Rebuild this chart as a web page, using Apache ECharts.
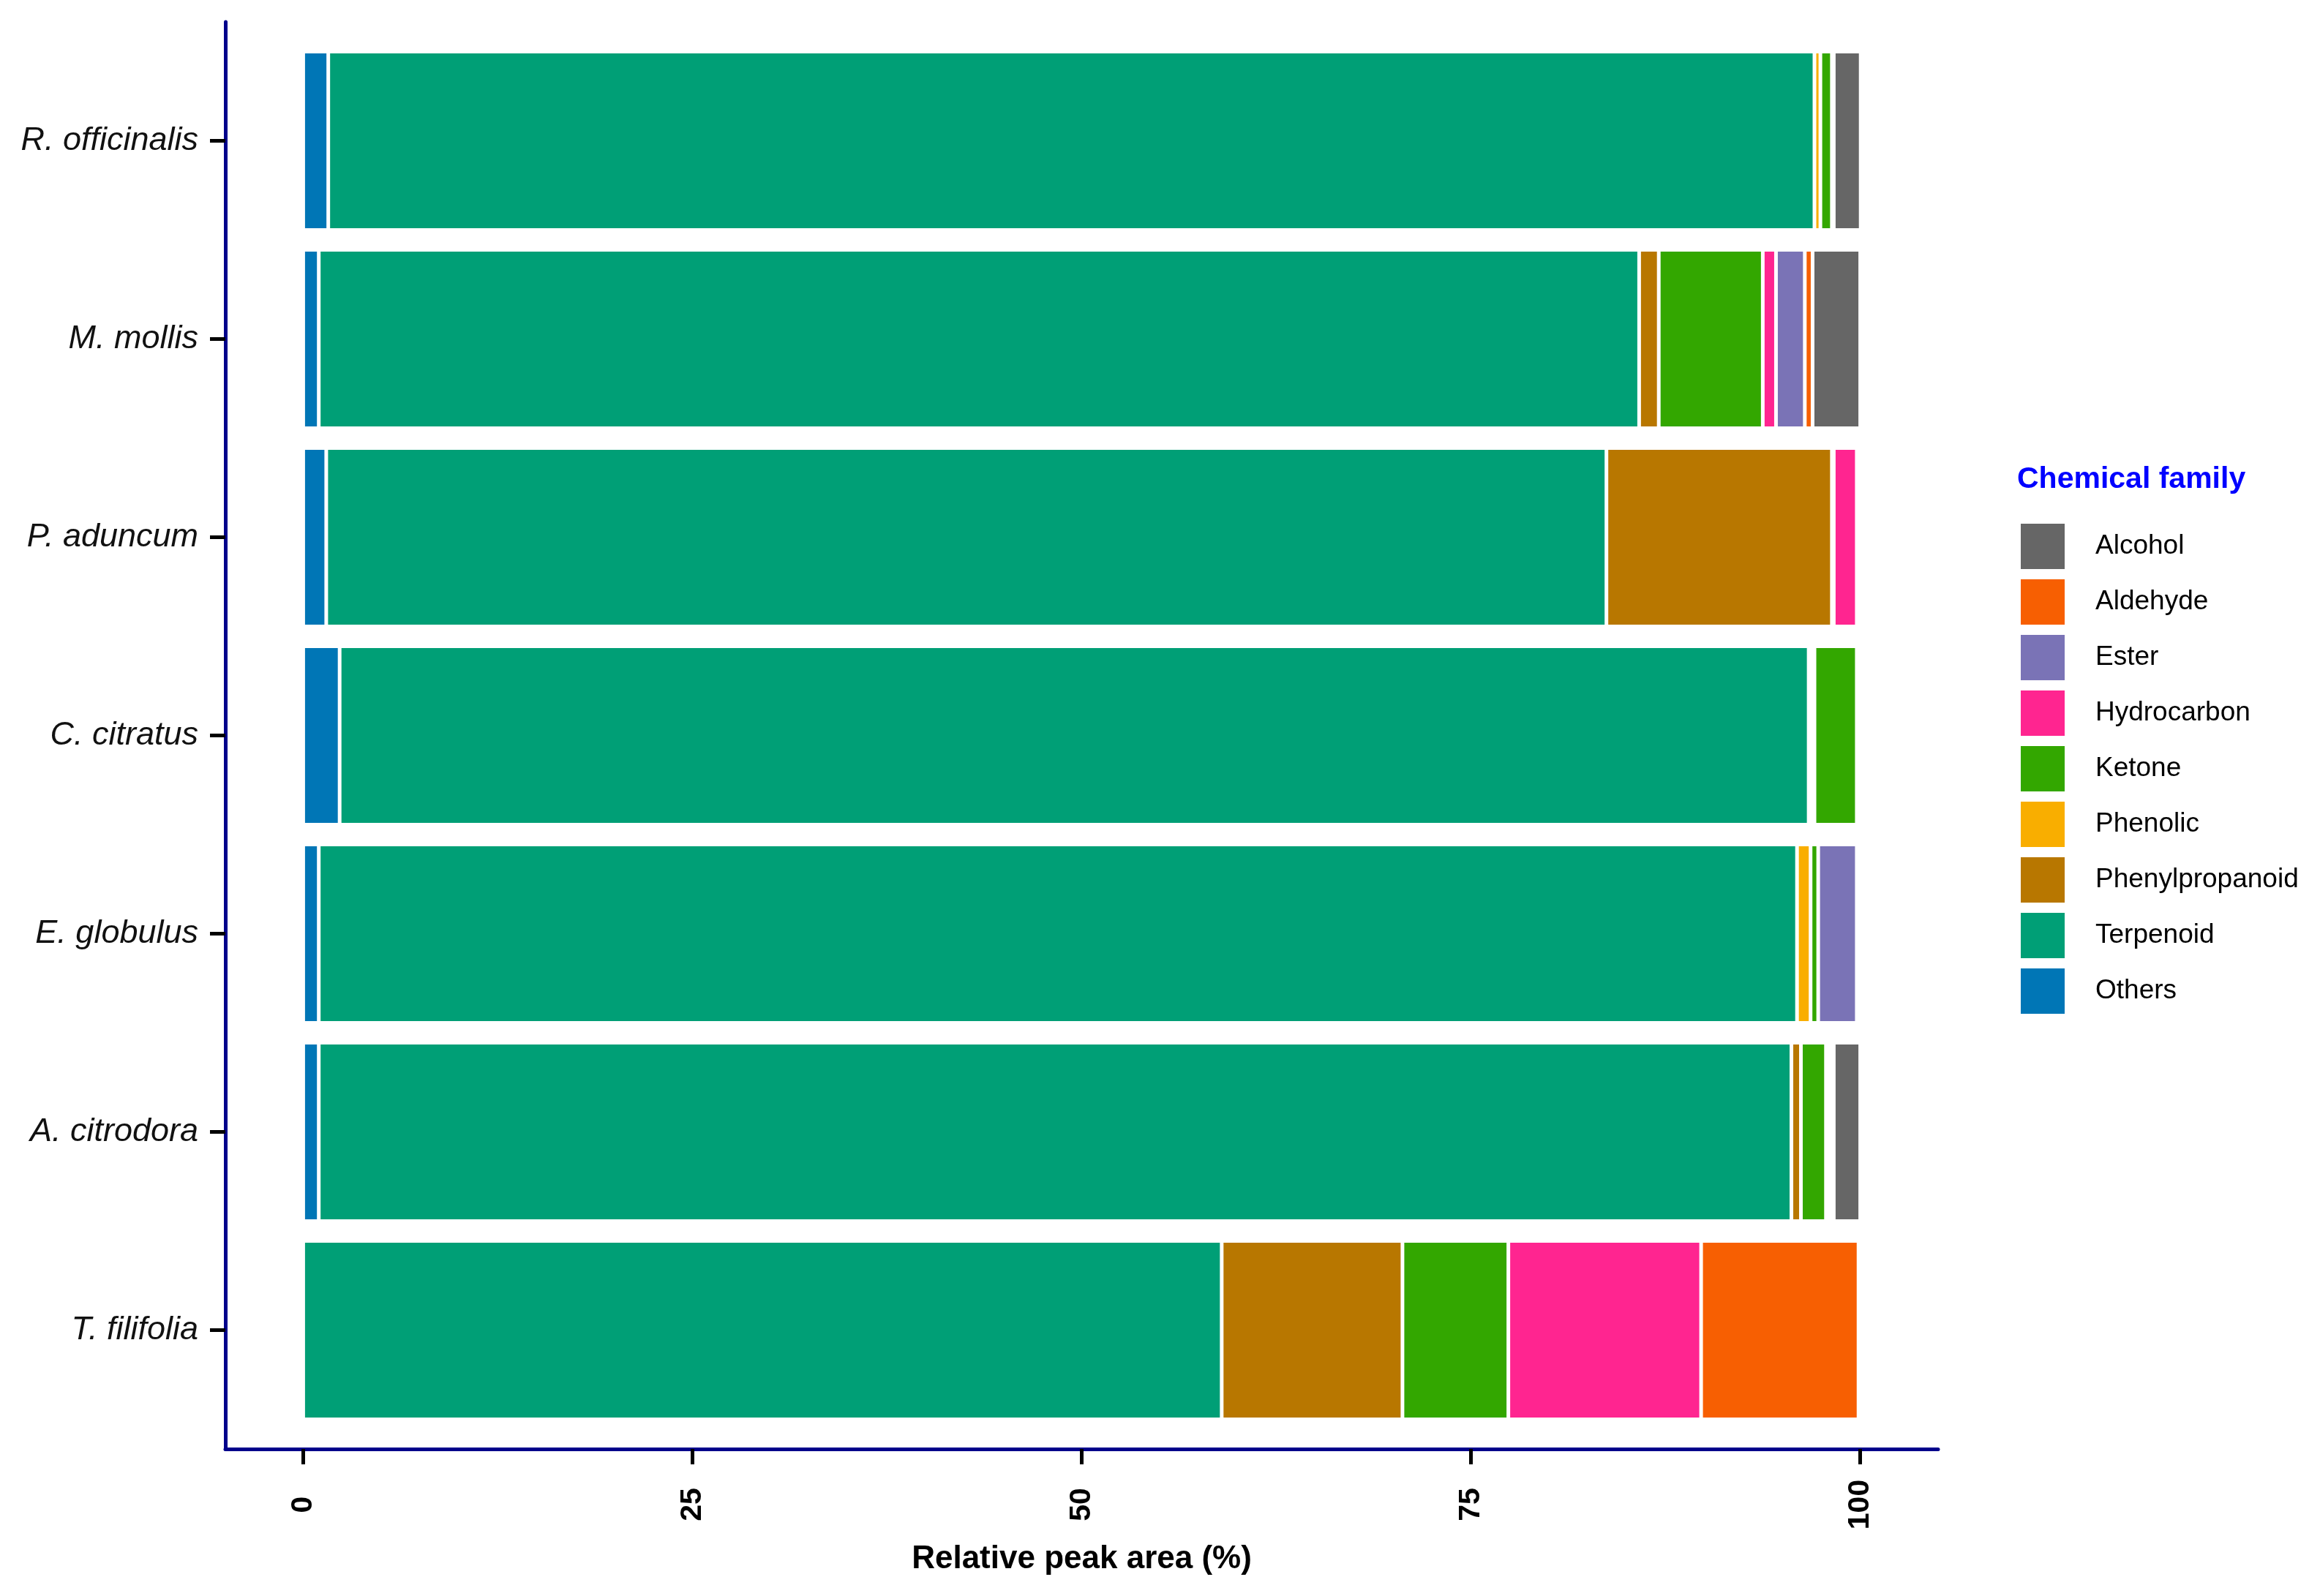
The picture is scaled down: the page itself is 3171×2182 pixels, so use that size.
<!DOCTYPE html>
<html>
<head>
<meta charset="utf-8">
<script src="https://cdn.jsdelivr.net/npm/echarts@6/dist/echarts.min.js"></script>
<style>
html,body{margin:0;padding:0;background:#fff;}
#chart{width:3171px;height:2182px;}
</style>
</head>
<body>
<div id="chart"></div>
<script>
// ---- data ----
const categories = ['R. officinalis', 'M. mollis', 'P. aduncum', 'C. citratus', 'E. globulus', 'A. citrodora', 'T. filifolia'];
const xTicks = [0, 25, 50, 75, 100];
const legendOrder = ['Alcohol', 'Aldehyde', 'Ester', 'Hydrocarbon', 'Ketone', 'Phenolic', 'Phenylpropanoid', 'Terpenoid', 'Others'];

const others          = [1.61, 1.00, 1.48, 2.34, 1.00, 1.00, 0];
const terpenoid       = [95.45, 84.80, 82.22, 94.35, 94.94, 94.58, 58.99];
const phenylpropanoid = [0, 1.26, 14.48, 0.18, 0, 0.61, 11.61];
const phenolic        = [0.38, 0, 0, 0.19, 0.87, 0, 0];
const ketone          = [0.74, 6.68, 0.12, 2.72, 0.49, 1.61, 6.80];
const hydrocarbon     = [0, 0.85, 1.48, 0, 0, 0.17, 12.38];
const ester           = [0.12, 1.85, 0, 0, 2.48, 0.17, 0];
const aldehyde        = [0, 0.50, 0, 0, 0, 0.16, 10.11];
const alcohol         = [1.73, 3.06, 0, 0, 0, 1.70, 0];

// stacking order from 0 outward
const stackSeries = [
  ['Others', others],
  ['Terpenoid', terpenoid],
  ['Phenylpropanoid', phenylpropanoid],
  ['Phenolic', phenolic],
  ['Ketone', ketone],
  ['Hydrocarbon', hydrocarbon],
  ['Ester', ester],
  ['Aldehyde', aldehyde],
  ['Alcohol', alcohol]
];

const colors = {
  Alcohol: '#666666',
  Aldehyde: '#F75F02',
  Ester: '#7A73B6',
  Hydrocarbon: '#FF2590',
  Ketone: '#33A700',
  Phenolic: '#F9AE00',
  Phenylpropanoid: '#B87700',
  Terpenoid: '#009F76',
  Others: '#0076B6'
};

const FONT = '"Liberation Sans", Arial, Helvetica, sans-serif';
const NAVY = '#00008B';

const chart = echarts.init(document.getElementById('chart'), null, {renderer: 'canvas'});

const series = stackSeries.map(([name, vals]) => ({
  name: name,
  type: 'bar',
  stack: 'total',
  xAxisIndex: 0,
  yAxisIndex: 0,
  barCategoryGap: '10%',
  data: vals.map(v => (v === 0 ? null : v)),
  itemStyle: {color: colors[name], borderColor: '#ffffff', borderWidth: 2.5},
  emphasis: {disabled: true},
  animation: false
}));

const option = {
  backgroundColor: '#ffffff',
  animation: false,
  textStyle: {fontFamily: FONT},
  title: {
    text: 'Chemical family',
    left: 2752,
    top: 630,
    textStyle: {fontFamily: FONT, fontSize: 41, fontWeight: 'bold', color: '#0000FF'}
  },
  legend: {
    orient: 'vertical',
    left: 2757,
    top: 711,
    data: legendOrder,
    icon: 'rect',
    itemWidth: 60,
    itemHeight: 62,
    itemGap: 14,
    itemStyle: {borderWidth: 0},
    selectedMode: false,
    textStyle: {fontFamily: FONT, fontSize: 37, color: '#000000', padding: [0, 0, 0, 37]}
  },
  grid: [
    {left: 308, right: 522, top: 57, bottom: 228, outerBoundsMode: 'none', containLabel: false},
    {left: 308, right: 522, top: 30, bottom: 201, outerBoundsMode: 'none', containLabel: false}
  ],
  xAxis: [
    {
      gridIndex: 0, type: 'value', min: -5, max: 105, show: false,
      splitLine: {show: false}
    },
    {
      gridIndex: 1, type: 'value', min: -5, max: 105,
      axisLine: {show: true, onZero: false, lineStyle: {color: NAVY, width: 5}},
      axisTick: {show: true, customValues: xTicks, length: 21, lineStyle: {color: '#000000', width: 5}},
      axisLabel: {
        show: true, customValues: xTicks, rotate: 90, align: 'center', verticalAlign: 'middle',
        margin: 76, fontFamily: FONT, fontSize: 41, fontWeight: 'bold', color: '#000000'
      },
      splitLine: {show: false},
      name: 'Relative peak area (%)',
      nameLocation: 'middle',
      nameGap: 151,
      nameTextStyle: {fontFamily: FONT, fontSize: 44, fontWeight: 'bold', color: '#000000', verticalAlign: 'middle'}
    }
  ],
  yAxis: [
    {
      gridIndex: 0, type: 'category', data: categories, inverse: true,
      axisLine: {show: false, onZero: false},
      axisTick: {show: true, alignWithLabel: true, length: 21, lineStyle: {color: '#000000', width: 5}},
      axisLabel: {margin: 37, fontFamily: FONT, fontSize: 45, fontStyle: 'italic', color: '#111111', padding: [14, 0, 0, 0]},
      splitLine: {show: false}
    },
    {
      gridIndex: 1, type: 'value', min: 0, max: 1,
      axisLine: {show: true, onZero: false, lineStyle: {color: NAVY, width: 5}},
      axisTick: {show: false},
      axisLabel: {show: false},
      splitLine: {show: false}
    }
  ],
  series: series
};

chart.setOption(option);
</script>
</body>
</html>
